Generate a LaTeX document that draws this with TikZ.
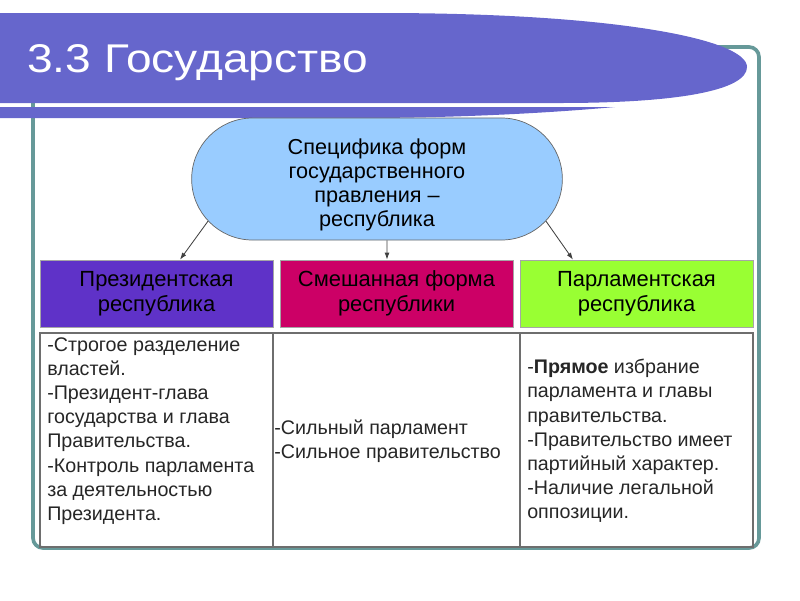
\documentclass[tikz,border=0pt]{standalone}
\usepackage{fontspec}
\setmainfont{Liberation Sans}
\usepackage{graphicx}
\usepackage{tikz}
\usetikzlibrary{arrows.meta,shapes.misc,calc}
\definecolor{bannerC}{RGB}{102,102,204}
\definecolor{frameC}{RGB}{102,153,153}
\definecolor{specC}{RGB}{153,204,255}
\definecolor{presC}{RGB}{95,50,200}
\definecolor{mixC}{RGB}{204,0,102}
\definecolor{parlC}{RGB}{153,255,51}
\definecolor{lineC}{RGB}{110,110,110}

\begin{document}
\begin{tikzpicture}[x=0.025cm,y=-0.025cm,
  head/.style={fill=#1,draw=gray!70,line width=0.5pt,minimum width=5.825cm,minimum height=1.675cm,align=center,font=\fontsize{15.6}{17.8}\selectfont},
  cell/.style={draw=lineC,line width=0.9pt,minimum height=5.35cm},
  body/.style={anchor=west,inner sep=0pt,align=left,text=black!85,font=\fontsize{14}{17.2}\selectfont},
  arr/.style={-{Latex[length=5pt,width=3.5pt]},draw=black!75,line width=0.6pt}]
            \useasboundingbox (0,0) rectangle (800,600);
            \draw[frameC,line width=2.6pt,rounded corners=0.25cm] (33,47) rectangle (759,548);
            \fill[bannerC] (0,13) -- (380,13) .. controls (620,13) and (747,40) .. (747,67) .. controls (747,90) and (680,103) .. (560,103) -- (0,103) -- cycle;
            \fill[bannerC] (0,107) -- (615,107) .. controls (560,112) and (480,117) .. (380,118) -- (0,118) -- cycle;
            \node[anchor=base west,inner sep=0pt,text=white,font=\fontsize{28.5}{30}\selectfont] (title) at (27,72) {\scalebox{1.15}[1]{3.3 Государство}};

            \node[rounded rectangle,draw=black!60,fill=specC,line width=0.5pt,minimum width=9.5cm,minimum height=3.05cm] (spec) at (377,179) {};
            \node[align=center,font=\fontsize{15.4}{17.2}\selectfont] (specTxt) at (377,185) {Специфика форм\\государственного\\правления –\\республика};

            \node[head=presC] (pres) at (156.5,293.5) {Президентская\\республика};
            \node[head=mixC] (mixed) at (396.5,293.5) {Смешанная форма\\республики};
            \node[head=parlC] (parl) at (636.5,293.5) {Парламентская\\республика};

            \draw[arr] (spec.194) -- ([xshift=0.5875cm]pres.north);
            \draw[arr] ([xshift=0.25cm]spec.south) -- ([xshift=-0.2375cm]mixed.north);
            \draw[arr] (spec.-14) -- ([xshift=-1.5875cm]parl.north);

            \node[cell,minimum width=5.825cm] (presCell) at (156.5,440) {};
            \node[cell,minimum width=6.175cm] (mixedCell) at (396.5,440) {};
            \node[cell,minimum width=5.825cm] (parlCell) at (636.5,440) {};

            \node[body] (presTxt) at (47,431) {-Строгое разделение\\властей.\\-Президент-глава\\государства и глава\\Правительства.\\-Контроль парламента\\за деятельностью\\Президента.};
            \node[body] (mixedTxt) at (274,441) {-Сильный парламент\\-Сильное правительство};
            \node[body] (parlTxt) at (527,441) {-\textbf{Прямое} избрание\\парламента и главы\\правительства.\\-Правительство имеет\\партийный характер.\\-Наличие легальной\\оппозиции.};
        \end{tikzpicture}
\end{document}
